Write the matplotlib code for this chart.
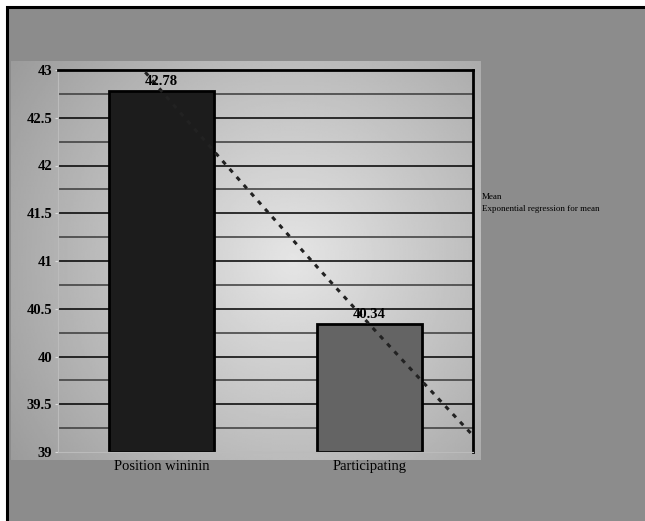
import numpy as np
import matplotlib.pyplot as plt
from matplotlib.patches import Rectangle

categories = ['Position wininin', 'Participating']
means = [42.78, 40.34]
bar_colors = ['#1c1c1c', '#646464']
yticks = [39, 39.5, 40, 40.5, 41, 41.5, 42, 42.5, 43]
ytick_labels = ['39', '39.5', '40', '40.5', '41', '41.5', '42', '42.5', '43']

plt.rcParams['font.family'] = ['Liberation Serif', 'DejaVu Serif']

W, H = 645, 521
fig = plt.figure(figsize=(W / 100, H / 100), dpi=100, facecolor='white')

# grey page with black border on top and left
fig.patches.append(Rectangle((7 / W, -0.02), 1.0, 1 - 7 / H + 0.02, transform=fig.transFigure,
                             facecolor='#8c8c8c', edgecolor='black', lw=2.2, zorder=-10))

# plot area with a light radial gradient
bg = fig.add_axes([11 / W, 1 - 460 / H, 470 / W, 399 / H])
gx, gy = np.meshgrid(np.linspace(0, 1, 300), np.linspace(0, 1, 250))
d = np.sqrt(((gx - 0.6) / 0.7) ** 2 + ((gy - 0.5) / 0.85) ** 2)
shade = np.clip(0.9 - 0.28 * d, 0.6, 1)
bg.imshow(shade, cmap='gray', vmin=0, vmax=1, aspect='auto',
          extent=(0, 1, 0, 1), origin='lower')
bg.axis('off')

ax = fig.add_axes([57.7 / W, 1 - 452 / H, 415.3 / W, 382 / H])
ax.set_facecolor('none')
x = np.arange(len(categories))

ax.set_ylim(39, 43)
ax.set_xlim(-0.5, 1.5)
for v in np.arange(39.25, 43, 0.25):
    ax.axhline(v, color='black' if abs(v * 2 - round(v * 2)) < 1e-9 else '#3a3a3a', lw=1.1, zorder=1)

ax.bar(x, [m - 39 for m in means], bottom=39, width=0.505, color=bar_colors,
       edgecolor='black', lw=2, zorder=2)

for xi, m in zip(x, means):
    ax.text(xi, m + 0.03, f'{m:.2f}', ha='center', va='bottom', fontsize=10.5,
            fontweight='bold', zorder=4)

# exponential regression of the means
b, a = np.polyfit(x, np.log(means), 1)
xt = np.linspace(-0.5, 1.5, 100)
ax.plot(xt, np.exp(a + b * xt), color='#222222', lw=2.2, ls=(0, (1.5, 2.0)), zorder=3)

ax.set_yticks(yticks)
ax.set_yticklabels(ytick_labels, fontsize=10.5, fontweight='bold')
ax.set_xticks(x)
ax.set_xticklabels(categories, fontsize=10.5)
ax.tick_params(axis='y', length=2, color='#dddddd', pad=2)
ax.tick_params(axis='x', length=0, pad=6)

for s in ['top', 'right']:
    ax.spines[s].set_linewidth(2)
    ax.spines[s].set_color('black')
ax.spines['left'].set_color('#bbbbbb')
ax.spines['left'].set_linewidth(0.8)
ax.spines['bottom'].set_color('#bbbbbb')
ax.spines['bottom'].set_linewidth(0.8)

# legend text
fig.text(482 / W, 1 - 197 / H, 'Mean', fontsize=6.5, va='center', ha='left')
fig.text(482 / W, 1 - 209 / H, 'Exponential regression for mean', fontsize=6.5, va='center', ha='left')

fig.savefig('out.png', dpi=100, facecolor=fig.get_facecolor())
